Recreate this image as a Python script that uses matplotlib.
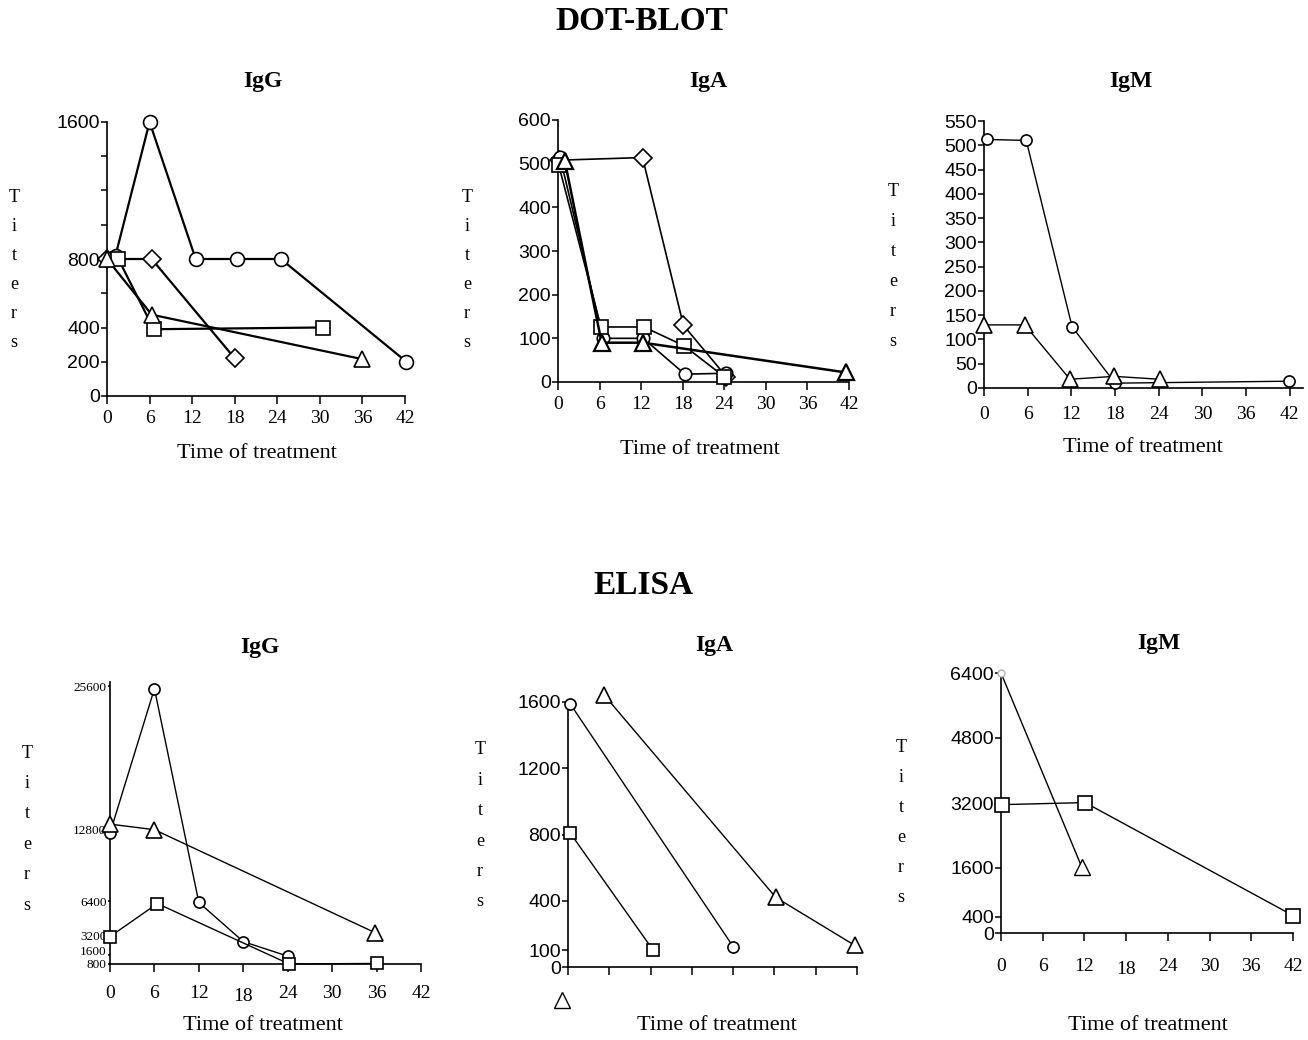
import matplotlib
matplotlib.use("Agg")
import matplotlib.pyplot as plt
from matplotlib.transforms import ScaledTranslation

W, H = 1308, 1040
SERIF = "Liberation Serif"
SANS = "Liberation Sans"

# ---------------------------------------------------------------------------
# Data
# ---------------------------------------------------------------------------
weeks = [0, 6, 12, 18, 24, 30, 36, 42]

# DOT-BLOT IgG
db_igg_circle_t = [1.2, 6, 12.5, 18.3, 24.5, 42.2]
db_igg_circle_v = [820, 1600, 800, 800, 800, 200]
db_igg_diamond_t = [0, 6.3, 18]
db_igg_diamond_v = [800, 800, 220]
db_igg_square_t = [1.6, 6.6, 30.4]
db_igg_square_v = [800, 390, 400]
db_igg_triangle_t = [0, 6.3, 36]
db_igg_triangle_v = [800, 475, 215]
db_igg_yticks = [0, 200, 400, 800, 1600]
db_igg_yminor = [600, 1000, 1200, 1400]

# DOT-BLOT IgA
db_iga_diamond_t = [0.2, 12.2, 18.1, 24.3]
db_iga_diamond_v = [508, 514, 130, 12]
db_iga_circle_t = [0.3, 6.5, 12.3, 18.3, 24.3]
db_iga_circle_v = [515, 100, 100, 18, 20]
db_iga_square_t = [0.1, 6.2, 12.4, 18.2, 24.0]
db_iga_square_v = [497, 126, 126, 83, 12]
db_iga_triangle_t = [1.0, 6.3, 12.3, 41.5]
db_iga_triangle_v = [505, 90, 90, 22]
db_iga_yticks = [0, 100, 200, 300, 400, 500, 600]

# DOT-BLOT IgM
db_igm_circle_t = [0.4, 5.8, 12.1, 18.0, 41.9]
db_igm_circle_v = [512, 510, 126, 10, 14]
db_igm_triangle_t = [0, 5.6, 11.8, 17.9, 24.1]
db_igm_triangle_v = [130, 130, 18, 24, 18]
db_igm_yticks = [0, 50, 100, 150, 200, 250, 300, 350, 400, 450, 500, 550]

# ELISA IgG
el_igg_circle_t = [0, 6, 12, 18, 24]
el_igg_circle_v = [12500, 25400, 6300, 2800, 1500]
el_igg_triangle_t = [0, 6, 35.8]
el_igg_triangle_v = [13300, 12800, 3600]
el_igg_square_t = [0, 6.4, 24.2, 36]
el_igg_square_v = [3250, 6200, 800, 850]
el_igg_yticks = [800, 1600, 3200, 6400, 12800, 25600]

# ELISA IgA
el_iga_circle_t = [0.3, 24]
el_iga_circle_v = [1590, 123]
el_iga_triangle_t = [5.3, 30.2, 41.7]
el_iga_triangle_v = [1640, 420, 130]
el_iga_square_t = [0.3, 12.4]
el_iga_square_v = [810, 100]
el_iga_stray_t = [-0.9]
el_iga_stray_v = [-200]
el_iga_yticks = [0, 100, 400, 800, 1200, 1600]

# ELISA IgM
el_igm_triangle_t = [0, 11.6]
el_igm_triangle_v = [6400, 1630]
el_igm_square_t = [0.2, 12.1, 42]
el_igm_square_v = [3160, 3210, 430]
el_igm_yticks = [0, 400, 1600, 3200, 4800, 6400]


# ---------------------------------------------------------------------------
# Helpers
# ---------------------------------------------------------------------------
fig = plt.figure(figsize=(W / 100, H / 100), dpi=100)
fig.patch.set_facecolor("white")


def px_axes(x0, x1, yb, yt):
    """Axes from pixel box (image coords, y downwards)."""
    return fig.add_axes([x0 / W, 1 - yb / H, (x1 - x0) / W, (yb - yt) / H])


def ftext(x, y, s, **kw):
    fig.text(x / W, 1 - y / H, s, ha="center", va="center", **kw)


def series(ax, t, v, marker, ms=10, lw=1.2, mew=1.2):
    ax.plot(t, v, "-", color="black", lw=lw, marker=marker, ms=ms,
            mfc="white", mec="black", mew=mew, clip_on=False, zorder=3)


def style_axes(ax, xlim, ylim, yticks, ylabels=None, yfont=SANS, yfs=14,
               xlabels=True, low18=False, xpad=4, ylen=4):
    ax.set_xlim(*xlim)
    ax.set_ylim(*ylim)
    for s in ("top", "right"):
        ax.spines[s].set_visible(False)
    for s in ("left", "bottom"):
        ax.spines[s].set_linewidth(1.2)
    ax.set_facecolor("none")

    xt = [w for w in weeks if not (low18 and w == 18)]
    ax.set_xticks(xt)
    if xlabels:
        ax.set_xticklabels([str(w) for w in xt], fontfamily=SERIF, fontsize=14)
    else:
        ax.set_xticklabels([])
    if low18:
        # the "18" label sits a little lower than the others in the scan
        ax.set_xticks([18], minor=True)
        ax.set_xticklabels(["18"], minor=True, fontfamily=SERIF, fontsize=14)
        ax.tick_params(axis="x", which="minor", length=6, width=1.1,
                       direction="out", pad=xpad + 2.5)
    ax.tick_params(axis="x", which="major", length=6, width=1.1,
                   direction="out", pad=xpad)

    ax.set_yticks(yticks)
    labels = ylabels if ylabels is not None else [str(y) for y in yticks]
    ax.set_yticklabels(labels, fontfamily=yfont, fontsize=yfs)
    ax.tick_params(axis="y", which="both", length=ylen, width=1.1,
                   direction="out", pad=1)


def titers(x, ytop, ybot):
    letters = "Titers"
    step = (ybot - ytop) / (len(letters) - 1)
    for i, ch in enumerate(letters):
        ftext(x, ytop + i * step, ch, fontfamily=SERIF, fontsize=13)


# ---------------------------------------------------------------------------
# Section headers
# ---------------------------------------------------------------------------
ftext(642, 22, "DOT-BLOT", fontfamily=SERIF, fontweight="bold", fontsize=24)
ftext(644, 585, "ELISA", fontfamily=SERIF, fontweight="bold", fontsize=24)

# ---------------------------------------------------------------------------
# DOT-BLOT IgG
# ---------------------------------------------------------------------------
ax = px_axes(107, 405, 396, 122)
series(ax, db_igg_circle_t, db_igg_circle_v, "o", ms=10, lw=1.6)
series(ax, db_igg_diamond_t, db_igg_diamond_v, "D", ms=9, lw=1.6)
series(ax, db_igg_square_t, db_igg_square_v, "s", ms=10, lw=1.6)
series(ax, db_igg_triangle_t, db_igg_triangle_v, "^", ms=11, lw=1.6)
style_axes(ax, (0, 42), (0, 1600), db_igg_yticks)
ax.set_yticks(db_igg_yminor, minor=True)
ftext(263, 81, "IgG", fontfamily=SERIF, fontweight="bold", fontsize=17)
titers(14, 197, 343)
ftext(257, 453, "Time of treatment", fontfamily=SERIF, fontsize=16)

# ---------------------------------------------------------------------------
# DOT-BLOT IgA
# ---------------------------------------------------------------------------
ax = px_axes(558, 849, 382, 120)
series(ax, db_iga_diamond_t, db_iga_diamond_v, "D", ms=9, lw=1.2)
series(ax, db_iga_circle_t, db_iga_circle_v, "o", ms=9, lw=1.2)
series(ax, db_iga_square_t, db_iga_square_v, "s", ms=10, lw=1.2)
series(ax, db_iga_triangle_t, db_iga_triangle_v, "^", ms=11, lw=1.8, mew=1.6)
style_axes(ax, (0, 42), (0, 600), db_iga_yticks)
ftext(708, 81, "IgA", fontfamily=SERIF, fontweight="bold", fontsize=17)
titers(467, 197, 343)
ftext(700, 450, "Time of treatment", fontfamily=SERIF, fontsize=16)

# ---------------------------------------------------------------------------
# DOT-BLOT IgM
# ---------------------------------------------------------------------------
ax = px_axes(984, 1303, 388, 121)
series(ax, db_igm_circle_t, db_igm_circle_v, "o", ms=8, lw=1.0)
series(ax, db_igm_triangle_t, db_igm_triangle_v, "^", ms=11, lw=1.0)
style_axes(ax, (0, 43.8), (0, 550), db_igm_yticks, xpad=7)
ftext(1131, 81, "IgM", fontfamily=SERIF, fontweight="bold", fontsize=17)
titers(893, 192, 342)
ftext(1143, 448, "Time of treatment", fontfamily=SERIF, fontsize=16)

# ---------------------------------------------------------------------------
# ELISA IgG
# ---------------------------------------------------------------------------
ax = px_axes(110, 421, 964, 682)
series(ax, el_igg_circle_t, el_igg_circle_v, "o", ms=8, lw=1.0)
series(ax, el_igg_triangle_t, el_igg_triangle_v, "^", ms=11, lw=1.0)
series(ax, el_igg_square_t, el_igg_square_v, "s", ms=9, lw=1.0)
style_axes(ax, (0, 42), (800, 26000), el_igg_yticks, yfont=SERIF, yfs=9.5,
           low18=True, xpad=9, ylen=1.5)
# crowded labels at the bottom of the axis are spread a bit in the scan
for lab, dy in zip(ax.get_yticklabels(), [0, 3, 1.5, 0, 0, 0]):
    lab.set_transform(lab.get_transform()
                      + ScaledTranslation(0, dy / 72, fig.dpi_scale_trans))
ftext(260, 648, "IgG", fontfamily=SERIF, fontweight="bold", fontsize=17)
titers(27, 753, 905)
ftext(263, 1025, "Time of treatment", fontfamily=SERIF, fontsize=16)

# ---------------------------------------------------------------------------
# ELISA IgA
# ---------------------------------------------------------------------------
ax = px_axes(568, 857, 967, 702)
series(ax, el_iga_circle_t, el_iga_circle_v, "o", ms=8, lw=1.0)
series(ax, el_iga_triangle_t, el_iga_triangle_v, "^", ms=11, lw=1.0)
series(ax, el_iga_square_t, el_iga_square_v, "s", ms=9, lw=1.0)
ax.plot(el_iga_stray_t, el_iga_stray_v, "^", ms=11, mfc="white", mec="black",
        mew=1.0, clip_on=False, zorder=3)
style_axes(ax, (0, 42), (0, 1600), el_iga_yticks, xlabels=False)
ftext(714, 646, "IgA", fontfamily=SERIF, fontweight="bold", fontsize=17)
titers(480, 750, 902)
ftext(717, 1025, "Time of treatment", fontfamily=SERIF, fontsize=16)

# ---------------------------------------------------------------------------
# ELISA IgM
# ---------------------------------------------------------------------------
ax = px_axes(1001, 1293, 933, 673)
ax.plot(el_igm_triangle_t, el_igm_triangle_v, "-", color="black", lw=1.0,
        clip_on=False, zorder=3)
ax.plot(el_igm_triangle_t[1:], el_igm_triangle_v[1:], "^", ms=11, mfc="white",
        mec="black", mew=1.0, clip_on=False, zorder=4)
ax.plot(el_igm_triangle_t[:1], el_igm_triangle_v[:1], "o", ms=5, mfc="white",
        mec="#b0b0b0", mew=1.0, clip_on=False, zorder=4)
series(ax, el_igm_square_t, el_igm_square_v, "s", ms=10, lw=1.0)
style_axes(ax, (0, 42), (0, 6400), el_igm_yticks, low18=True, xpad=12)
ftext(1159, 644, "IgM", fontfamily=SERIF, fontweight="bold", fontsize=17)
titers(901, 748, 898)
ftext(1148, 1025, "Time of treatment", fontfamily=SERIF, fontsize=16)

fig.savefig("out.png", dpi=100, facecolor="white")
